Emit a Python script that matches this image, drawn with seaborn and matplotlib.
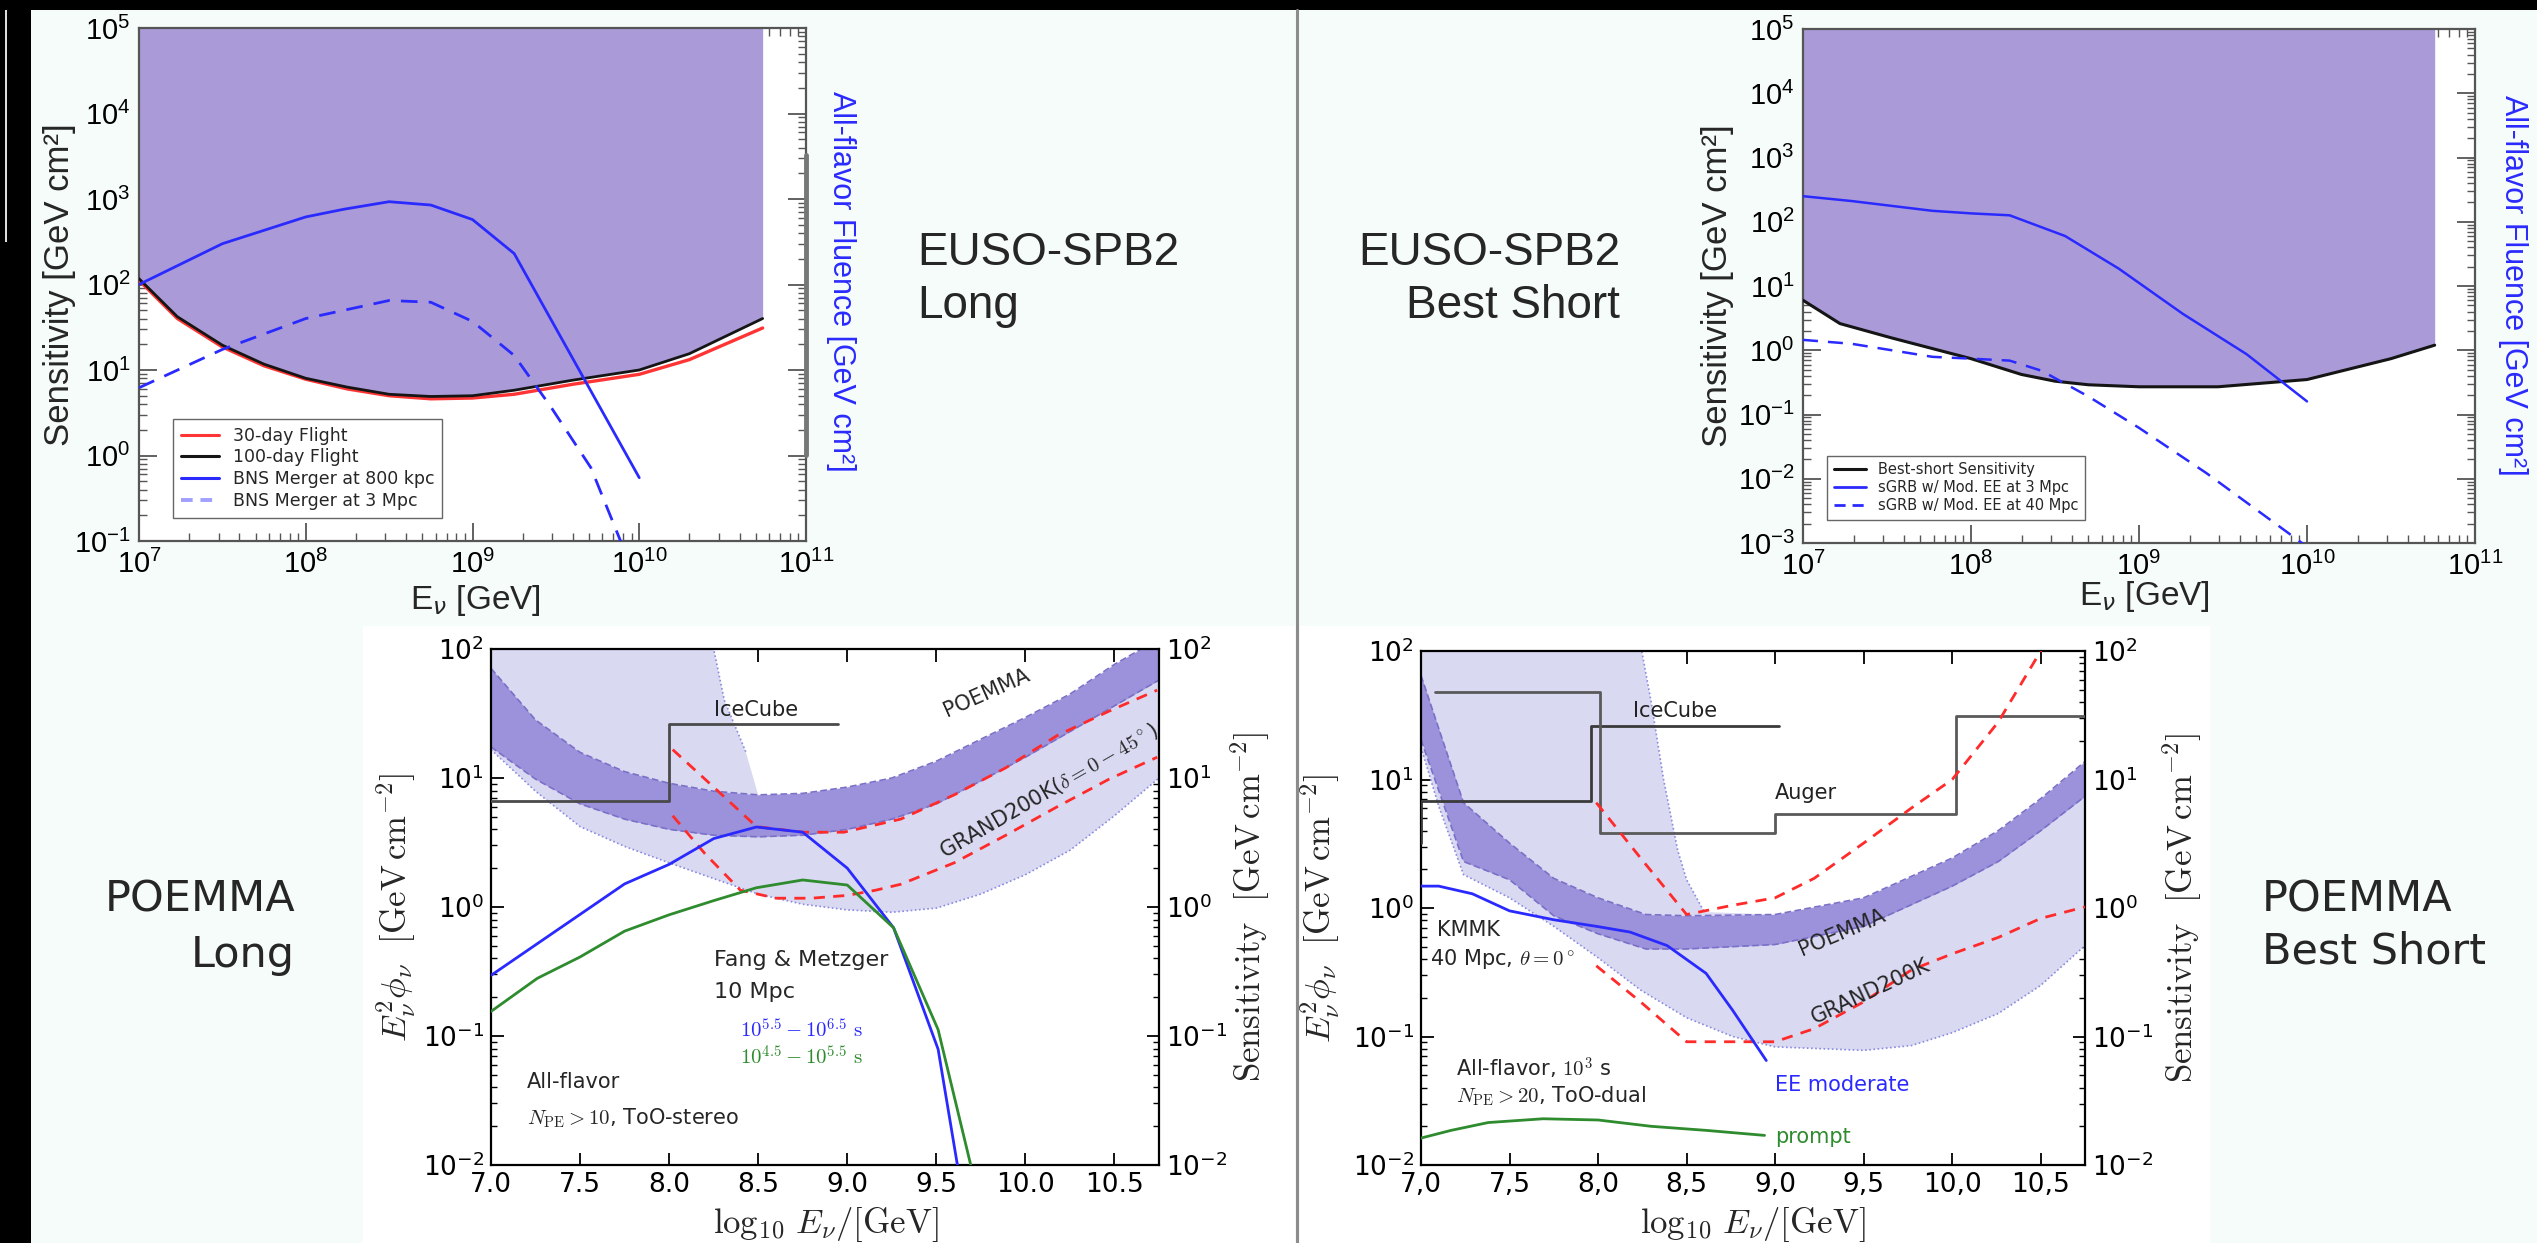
import numpy as np
import matplotlib
matplotlib.use("Agg")
import matplotlib.pyplot as plt
import matplotlib.ticker as mticker
from matplotlib.patches import Rectangle
from matplotlib.lines import Line2D
import seaborn as sns

W, H = 2537, 1243

# ---------------- EUSO-SPB2 Long (top left) ----------------
tl_logE = [7.0, 7.23, 7.5, 7.75, 8.0, 8.25, 8.5, 8.75, 9.0, 9.25, 9.6, 10.0, 10.3, 10.74]
tl_sens_100d = [117, 42, 19.5, 11.7, 8.0, 6.3, 5.2, 4.9, 5.0, 5.8, 7.6, 10.0, 15.5, 40]
tl_sens_30d = [112, 40, 18.6, 11.2, 7.8, 6.0, 5.0, 4.6, 4.7, 5.2, 6.8, 8.9, 13.2, 31]
tl_bns800_logE = [7.0, 7.5, 8.0, 8.23, 8.5, 8.75, 9.0, 9.25, 10.0]
tl_bns800 = [100, 300, 617, 760, 930, 850, 575, 230, 0.55]
tl_bns3_logE = [7.0, 7.5, 8.0, 8.5, 8.75, 9.0, 9.25, 9.47, 9.71, 9.92]
tl_bns3 = [6.2, 17.4, 40, 65, 62, 37, 14.8, 3.7, 0.72, 0.07]
tl_legend = ['30-day Flight', '100-day Flight', 'BNS Merger at 800 kpc', 'BNS Merger at 3 Mpc']

# ---------------- EUSO-SPB2 Best Short (top right) ----------------
tr_logE = [7.0, 7.22, 7.53, 8.0, 8.3, 8.5, 8.7, 9.0, 9.47, 10.0, 10.5, 10.76]
tr_sens = [6.0, 2.6, 1.55, 0.74, 0.42, 0.33, 0.29, 0.27, 0.27, 0.35, 0.74, 1.2]
tr_sgrb3_logE = [7.0, 7.29, 7.77, 8.0, 8.23, 8.56, 8.88, 9.26, 9.64, 10.0]
tr_sgrb3 = [250, 210, 148, 135, 126, 60, 18.6, 3.7, 0.87, 0.16]
tr_sgrb40_logE = [7.0, 7.29, 7.77, 8.0, 8.23, 8.42, 8.7, 9.0, 9.4, 9.97, 10.0]
tr_sgrb40 = [1.45, 1.26, 0.79, 0.74, 0.69, 0.48, 0.19, 0.062, 0.0123, 0.001, 0.0008]
tr_legend = ['Best-short Sensitivity', 'sGRB w/ Mod. EE at 3 Mpc', 'sGRB w/ Mod. EE at 40 Mpc']

# ---------------- POEMMA Long (bottom left) ----------------
bl_E = [7.0, 7.25, 7.5, 7.75, 8.0, 8.25, 8.5, 8.75, 9.0, 9.25, 9.5, 9.75, 10.0, 10.25, 10.5, 10.75]
bl_band_top = [70.8, 28.2, 15.8, 11.2, 9.1, 7.9, 7.4, 7.6, 8.5, 10, 13.5, 20, 29.5, 44.7, 76, 120]
bl_band_bot = [17.4, 9.8, 6.3, 4.8, 4.0, 3.6, 3.5, 3.6, 4.0, 4.8, 6.3, 9.5, 14.5, 22.9, 36.3, 57.5]
bl_wide_low = [16.6, 7.9, 4.2, 2.95, 2.2, 1.66, 1.26, 1.05, 0.95, 0.91, 0.98, 1.26, 1.78, 2.75, 5.1, 10]
bl_wide_edge_E = [7.0, 8.25, 8.31, 8.43]
bl_wide_edge = [300, 100, 40, 16]
bl_icecube_E = [7.0, 8.0, 8.0, 8.95]
bl_icecube = [6.6, 6.6, 26, 26]
bl_grand_hi_E = [8.02, 8.25, 8.49, 8.75, 8.98, 9.3, 9.6, 9.89, 10.18, 10.47, 10.74]
bl_grand_hi = [16.6, 8.5, 4.2, 3.8, 3.8, 4.8, 7.4, 12, 21.4, 33, 48]
bl_grand_lo_E = [8.02, 8.2, 8.4, 8.6, 8.8, 9.0, 9.16, 9.3, 9.6, 9.89, 10.18, 10.47, 10.74]
bl_grand_lo = [5.1, 2.6, 1.35, 1.17, 1.17, 1.23, 1.35, 1.5, 2.2, 3.6, 6.0, 9.8, 14.5]
bl_fm_blue_E = [7.0, 7.75, 8.0, 8.25, 8.49, 8.75, 9.0, 9.26, 9.51, 9.63]
bl_fm_blue = [0.295, 1.51, 2.14, 3.39, 4.17, 3.8, 2.0, 0.69, 0.079, 0.008]
bl_fm_green_E = [7.0, 7.26, 7.5, 7.75, 8.0, 8.25, 8.49, 8.75, 9.0, 9.26, 9.51, 9.71]
bl_fm_green = [0.155, 0.28, 0.41, 0.65, 0.87, 1.12, 1.41, 1.62, 1.48, 0.69, 0.112, 0.008]

# ---------------- POEMMA Best Short (bottom right) ----------------
br_band_E = [7.0, 7.24, 7.5, 7.75, 8.0, 8.27, 8.5, 9.0, 9.5, 10.0, 10.26, 10.5, 10.75]
br_band_top = [64.6, 6.6, 3.2, 1.7, 1.2, 0.89, 0.87, 0.89, 1.2, 2.45, 4.0, 7.1, 13.8]
br_band_bot = [20.4, 2.3, 1.66, 0.87, 0.63, 0.48, 0.48, 0.52, 0.72, 1.48, 2.3, 4.0, 7.4]
br_wide_E = [7.0, 7.1, 7.24, 7.5, 7.75, 8.0, 8.24, 8.5, 8.76, 9.0, 9.5, 9.77, 10.0, 10.26, 10.5, 10.75]
br_wide_low = [17.8, 6.2, 1.82, 1.2, 0.72, 0.41, 0.23, 0.14, 0.1, 0.083, 0.078, 0.085, 0.107, 0.151, 0.25, 0.51]
br_wide_edge_E = [7.0, 8.24, 8.3, 8.37, 8.45, 8.5, 8.6]
br_wide_edge = [300, 112, 40, 10, 2.8, 1.66, 0.93]
br_icecube_E = [7.0, 7.0, 7.96, 7.96, 9.02]
br_icecube = [3.2, 6.8, 6.8, 26, 26]
br_auger_E = [7.08, 8.01, 8.01, 9.0, 9.0, 10.02, 10.02, 10.75]
br_auger = [48, 48, 3.8, 3.8, 5.4, 5.4, 31, 31]
br_grand_hi_E = [7.99, 8.24, 8.5, 8.76, 9.0, 9.22, 9.5, 9.77, 10.0, 10.26, 10.5, 10.55]
br_grand_hi = [6.6, 2.45, 0.89, 1.05, 1.2, 1.7, 3.2, 6.0, 10, 28, 100, 132]
br_grand_lo_E = [7.99, 8.24, 8.5, 9.0, 9.22, 9.5, 9.77, 10.0, 10.26, 10.5, 10.75]
br_grand_lo = [0.355, 0.186, 0.091, 0.091, 0.115, 0.186, 0.33, 0.44, 0.59, 0.83, 1.02]
br_kmmk_E = [7.0, 7.1, 7.29, 7.5, 7.75, 7.99, 8.18, 8.39, 8.61, 8.76, 8.95]
br_kmmk_ee = [1.48, 1.48, 1.29, 0.95, 0.81, 0.72, 0.65, 0.51, 0.31, 0.16, 0.065]
br_prompt_E = [7.0, 7.17, 7.38, 7.69, 8.0, 8.3, 8.61, 8.94]
br_prompt = [0.0162, 0.0186, 0.0214, 0.0229, 0.0224, 0.02, 0.0186, 0.017]

xticks_poemma = [7.0, 7.5, 8.0, 8.5, 9.0, 9.5, 10.0, 10.5]
xlabels_long = ['7.0', '7.5', '8.0', '8.5', '9.0', '9.5', '10.0', '10.5']
xlabels_short = ['7,0', '7,5', '8,0', '8,5', '9,0', '9,5', '10,0', '10,5']

# colours
BG = '#f6fcf9'
FILL = '#aa9bd8'
RED = '#ff3535'
BLUE = '#2a2aff'
GREEN = '#2e8b2e'
LIGHT = '#d9d9f1'
DARK = '#9b92db'

sns.set_style('ticks')
plt.rcParams['font.family'] = ['DejaVu Sans']
plt.rcParams['mathtext.fontset'] = 'dejavusans'

fig = plt.figure(figsize=(W / 100, H / 100), dpi=100, facecolor=BG)


def px_axes(x0, y0, x1, y1):
    return fig.add_axes([x0 / W, 1 - y1 / H, (x1 - x0) / W, (y1 - y0) / H])


def px_rect(x0, y0, x1, y1, color):
    fig.patches.append(Rectangle((x0 / W, 1 - y1 / H), (x1 - x0) / W, (y1 - y0) / H,
                                 transform=fig.transFigure, color=color, lw=0, zorder=-5))


def px_text(x, y, s, **kw):
    fig.text(x / W, 1 - y / H, s, **kw)


def curve(ax, x, y, color, lw=2.0, ls='-', z=3):
    sns.lineplot(x=x, y=y, ax=ax, color=color, lw=lw, linestyle=ls, sort=False,
                 estimator=None, errorbar=None, legend=False, zorder=z)


# slide decoration
px_rect(0, 0, W, 10, 'black')
px_rect(0, 0, 31, H, 'black')
px_rect(5, 10, 7, 242, '#dddddd')
px_rect(363, 626, 1295, H, 'white')
px_rect(1300, 626, 2210, H, 'white')
fig.lines.append(Line2D([1297 / W, 1297 / W], [0, 1 - 10 / H], transform=fig.transFigure,
                        color='#8c8c8c', lw=2.2))


def style_euso(ax, ymin, ymax):
    ax.set_xscale('log')
    ax.set_yscale('log')
    ax.set_xlim(1e7, 1e11)
    ax.set_ylim(ymin, ymax)
    ax.set_facecolor('white')
    for axis in (ax.xaxis, ax.yaxis):
        axis.set_major_locator(mticker.LogLocator(base=10, numticks=30))
        axis.set_minor_locator(mticker.LogLocator(base=10, subs=np.arange(2, 10), numticks=30))
        axis.set_minor_formatter(mticker.NullFormatter())
    ax.tick_params(which='both', direction='in', top=True, right=True, colors='#555555',
                   labelcolor='black', labelfontfamily='Liberation Sans')
    ax.tick_params(which='major', length=13, width=1.3, labelsize=21, pad=6)
    ax.tick_params(which='minor', length=6, width=1.0)
    for sp in ax.spines.values():
        sp.set_color('#555555')
        sp.set_linewidth(1.6)
    ax.set_xlabel('')
    ax.set_ylabel('')


# ---------------- top left ----------------
ax = px_axes(139, 28, 806, 541)
E = np.power(10.0, tl_logE)
ax.fill_between(E, tl_sens_100d, 1e5, color=FILL, lw=0, zorder=1)
curve(ax, E, tl_sens_30d, RED, lw=2.4)
curve(ax, E, tl_sens_100d, '#151515', lw=2.0)
curve(ax, np.power(10.0, tl_bns800_logE), tl_bns800, BLUE, lw=2.0)
curve(ax, np.power(10.0, tl_bns3_logE), tl_bns3, BLUE, lw=2.0, ls=(0, (6, 4)))
style_euso(ax, 1e-1, 1e5)
handles = [Line2D([], [], color=RED, lw=2.2), Line2D([], [], color='#151515', lw=2.2),
           Line2D([], [], color=BLUE, lw=2.2), Line2D([], [], color='#a0a0ff', lw=2.8, ls=(0, (3, 2)))]
ax.legend(handles, tl_legend, loc='lower left', bbox_to_anchor=(0.051, 0.045), borderaxespad=0,
          prop={'family': 'DejaVu Sans', 'size': 12.5}, frameon=True, fancybox=False,
          edgecolor='#666666', framealpha=1, labelspacing=0.22, handlelength=2.2, borderpad=0.45)
ax.plot([1.0, 1.0], [0.168, 0.752], transform=ax.transAxes, color='#777777', lw=3.5,
        clip_on=False, zorder=5)
px_text(60, 285, 'Sensitivity [GeV cm²]', rotation=90, ha='center', va='center',
        fontsize=25, family='Liberation Sans')
px_text(841, 281, 'All-flavor Fluence [GeV cm²]', rotation=270, ha='center', va='center',
        fontsize=22, family='Liberation Sans', color=BLUE)
px_text(475, 600, r'E$_{\nu}$ [GeV]', ha='center', va='center', fontsize=24,
        family='Liberation Sans')

# ---------------- top right ----------------
ax = px_axes(1803, 29, 2475, 543)
E = np.power(10.0, tr_logE)
ax.fill_between(E, tr_sens, 1e5, color=FILL, lw=0, zorder=1)
curve(ax, E, tr_sens, '#151515', lw=2.2)
curve(ax, np.power(10.0, tr_sgrb3_logE), tr_sgrb3, BLUE, lw=1.8)
curve(ax, np.power(10.0, tr_sgrb40_logE), tr_sgrb40, BLUE, lw=1.8, ls=(0, (6, 4)))
style_euso(ax, 1e-3, 1e5)
handles = [Line2D([], [], color='#151515', lw=2.2), Line2D([], [], color=BLUE, lw=2.0),
           Line2D([], [], color=BLUE, lw=2.0, ls=(0, (4, 2.5)))]
ax.legend(handles, tr_legend, loc='lower left', bbox_to_anchor=(0.036, 0.045), borderaxespad=0,
          prop={'family': 'DejaVu Sans', 'size': 10.5}, frameon=True, fancybox=False,
          edgecolor='#666666', framealpha=1, labelspacing=0.2, handlelength=2.2, borderpad=0.45)
px_text(1718, 286, 'Sensitivity [GeV cm²]', rotation=90, ha='center', va='center',
        fontsize=25, family='Liberation Sans')
px_text(2513, 285, 'All-flavor Fluence [GeV cm²]', rotation=270, ha='center', va='center',
        fontsize=22, family='Liberation Sans', color=BLUE)
px_text(2144, 596, r'E$_{\nu}$ [GeV]', ha='center', va='center', fontsize=24,
        family='Liberation Sans')

px_text(917, 265, 'EUSO-SPB2', ha='left', va='baseline', fontsize=33, family='Liberation Sans')
px_text(917, 318, 'Long', ha='left', va='baseline', fontsize=33, family='Liberation Sans')
px_text(1620, 265, 'EUSO-SPB2', ha='right', va='baseline', fontsize=33, family='Liberation Sans')
px_text(1620, 318, 'Best Short', ha='right', va='baseline', fontsize=33, family='Liberation Sans')


def style_poemma(ax, xlabels):
    ax.set_yscale('log')
    ax.set_xlim(7.0, 10.75)
    ax.set_ylim(1e-2, 1e2)
    ax.set_facecolor('white')
    ax.set_xticks(xticks_poemma, xlabels)
    ax.yaxis.set_major_locator(mticker.LogLocator(base=10, numticks=10))
    ax.yaxis.set_minor_locator(mticker.LogLocator(base=10, subs=np.arange(2, 10), numticks=10))
    ax.yaxis.set_minor_formatter(mticker.NullFormatter())
    ax.tick_params(which='both', direction='in', top=True, right=True, labelright=True,
                   colors='black', labelfontfamily='DejaVu Sans')
    ax.tick_params(which='major', length=9, width=1.3, labelsize=19, pad=5)
    ax.tick_params(which='minor', length=4.5, width=1.0)
    for sp in ax.spines.values():
        sp.set_color('black')
        sp.set_linewidth(1.6)
    ax.set_xlabel('')
    ax.set_ylabel('')


def poemma_band(ax, band_E, top, bot, wide_low_E, wide_low, edge_E, edge, join_from):
    # light (wide) band: steep left edge, then the top of the dark band, back along the lower edge
    up_E = list(edge_E) + [e for e in band_E if e >= join_from]
    up_v = list(edge) + [v for e, v in zip(band_E, top) if e >= join_from]
    ax.fill(up_E + wide_low_E[::-1], up_v + wide_low[::-1], color=LIGHT, lw=0, zorder=1)
    ax.fill_between(band_E, bot, top, color=DARK, lw=0, zorder=2)
    curve(ax, band_E, top, '#7a70c8', lw=1.2, ls=(0, (4, 2)), z=2.5)
    curve(ax, band_E, bot, '#7a70c8', lw=1.2, ls=(0, (4, 2)), z=2.5)
    curve(ax, wide_low_E, wide_low, '#8a8ae0', lw=1.2, ls=(0, (1, 1.5)), z=2.5)
    curve(ax, edge_E, edge, '#8a8ae0', lw=1.2, ls=(0, (1, 1.5)), z=2.5)


CM = dict(math_fontfamily='cm')

# ---------------- bottom left ----------------
ax = px_axes(491, 649, 1159, 1165)
poemma_band(ax, bl_E, bl_band_top, bl_band_bot, bl_E, bl_wide_low,
            bl_wide_edge_E, bl_wide_edge, 8.5)
curve(ax, bl_icecube_E, bl_icecube, '#4a4a4a', lw=2.0)
curve(ax, bl_grand_hi_E, bl_grand_hi, '#ff2a2a', lw=2.0, ls=(0, (4, 3)))
curve(ax, bl_grand_lo_E, bl_grand_lo, '#ff2a2a', lw=2.0, ls=(0, (4, 3)))
curve(ax, bl_fm_blue_E, bl_fm_blue, BLUE, lw=2.0)
curve(ax, bl_fm_green_E, bl_fm_green, GREEN, lw=2.0)
style_poemma(ax, xlabels_long)
ax.text(8.25, 28, 'IceCube', fontsize=15, ha='left', va='bottom', color='#222222')
ax.text(9.78, 46, 'POEMMA', fontsize=15, rotation=24, rotation_mode='anchor',
        ha='center', va='center')
ax.text(10.13, 8.0, r'GRAND200K($\delta=0-45^\circ$)', fontsize=15, rotation=30,
        rotation_mode='anchor', ha='center', va='center', **CM)
ax.text(8.25, 0.39, 'Fang & Metzger', fontsize=16, ha='left', va='center')
ax.text(8.25, 0.22, '10 Mpc', fontsize=16, ha='left', va='center')
ax.text(8.4, 0.112, r'$10^{5.5}-10^{6.5}\ \mathrm{s}$', fontsize=15, ha='left', va='center',
        color=BLUE, **CM)
ax.text(8.4, 0.069, r'$10^{4.5}-10^{5.5}\ \mathrm{s}$', fontsize=15, ha='left', va='center',
        color=GREEN, **CM)
ax.text(7.2, 0.044, 'All-flavor', fontsize=15, ha='left', va='center')
ax.text(7.2, 0.023, r'$N_{\mathrm{PE}}>10$, ToO-stereo', fontsize=15, ha='left', va='center', **CM)
px_text(396, 907, r'$E_\nu^2\phi_\nu\ \ [\mathrm{GeV\,cm^{-2}}]$', rotation=90, ha='center',
        va='center', fontsize=25, **CM)
px_text(1250, 907, r'$\mathrm{Sensitivity}\ \ [\mathrm{GeV\,cm^{-2}}]$', rotation=90,
        ha='center', va='center', fontsize=25, **CM)
px_text(826, 1224, r'$\log_{10}\,E_\nu/[\mathrm{GeV}]$', ha='center', va='center',
        fontsize=25, **CM)

# ---------------- bottom right ----------------
ax = px_axes(1421, 651, 2085, 1165)
poemma_band(ax, br_band_E, br_band_top, br_band_bot, br_wide_E, br_wide_low,
            br_wide_edge_E, br_wide_edge, 9.0)
curve(ax, br_icecube_E, br_icecube, '#3a3a3a', lw=2.0)
curve(ax, br_auger_E, br_auger, '#5a5a5a', lw=2.0)
curve(ax, br_grand_hi_E, br_grand_hi, '#ff2a2a', lw=2.0, ls=(0, (4, 3)))
curve(ax, br_grand_lo_E, br_grand_lo, '#ff2a2a', lw=2.0, ls=(0, (4, 3)))
curve(ax, br_kmmk_E, br_kmmk_ee, BLUE, lw=2.0)
curve(ax, br_prompt_E, br_prompt, GREEN, lw=2.0)
style_poemma(ax, xlabels_short)
ax.text(8.2, 34, 'IceCube', fontsize=15, ha='left', va='center', color='#222222')
ax.text(9.0, 7.9, 'Auger', fontsize=15, ha='left', va='center', color='#222222')
ax.text(7.09, 0.68, 'KMMK', fontsize=15, ha='left', va='center')
ax.text(7.05, 0.4, r'40 Mpc, $\theta=0^\circ$', fontsize=15, ha='left', va='center', **CM)
ax.text(9.38, 0.65, 'POEMMA', fontsize=15, rotation=23, rotation_mode='anchor',
        ha='center', va='center')
ax.text(9.54, 0.224, 'GRAND200K', fontsize=15, rotation=25, rotation_mode='anchor',
        ha='center', va='center')
ax.text(9.0, 0.042, 'EE moderate', fontsize=15, ha='left', va='center', color=BLUE)
ax.text(9.0, 0.0166, 'prompt', fontsize=15, ha='left', va='center', color=GREEN)
ax.text(7.2, 0.056, r'All-flavor, $10^3$ s', fontsize=15, ha='left', va='center', **CM)
ax.text(7.2, 0.034, r'$N_{\mathrm{PE}}>20$, ToO-dual', fontsize=15, ha='left', va='center', **CM)
px_text(1320, 908, r'$E_\nu^2\phi_\nu\ \ [\mathrm{GeV\,cm^{-2}}]$', rotation=90, ha='center',
        va='center', fontsize=25, **CM)
px_text(2182, 908, r'$\mathrm{Sensitivity}\ \ [\mathrm{GeV\,cm^{-2}}]$', rotation=90,
        ha='center', va='center', fontsize=25, **CM)
px_text(1753, 1224, r'$\log_{10}\,E_\nu/[\mathrm{GeV}]$', ha='center', va='center',
        fontsize=25, **CM)

px_text(295, 912, 'POEMMA', ha='right', va='baseline', fontsize=31)
px_text(295, 967, 'Long', ha='right', va='baseline', fontsize=31)
px_text(2262, 912, 'POEMMA', ha='left', va='baseline', fontsize=31)
px_text(2262, 963, 'Best Short', ha='left', va='baseline', fontsize=31)

fig.savefig('out.png', dpi=100, facecolor=BG)
